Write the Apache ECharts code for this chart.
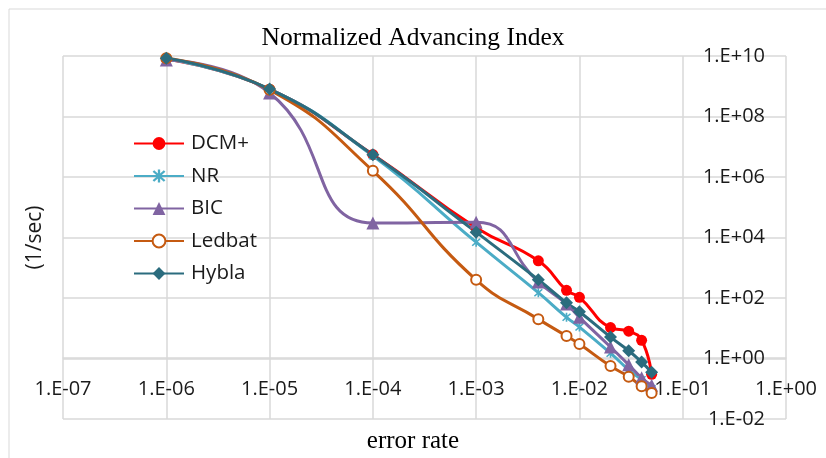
<!DOCTYPE html>
<html>
<head>
<meta charset="utf-8">
<script src="https://cdn.jsdelivr.net/npm/echarts@6/dist/echarts.min.js"></script>
<style>
  html, body { margin: 0; padding: 0; background: #fff; }
  #chart { width: 826px; height: 458px; }
</style>
</head>
<body>
<div id="chart"></div>
<script>
// error rate (x) shared by every series
const errorRate = [1e-6, 1e-5, 1e-4, 1e-3, 4e-3, 7.5e-3, 1e-2, 2e-2, 3e-2, 4e-2, 5e-2];

// normalized advancing index (1/sec)
const dcmPlus = [8e9, 8e8, 5.5e6, 2.1e4, 1.7e3, 180, 105, 10.5, 8, 4, 0.3];
const nr      = [8e9, 8e8, 5e6,   7e3,   150,   23,  11,  1.5,  0.42, 0.2, 0.1];
const bic     = [7.4e9, 6e8, 3e4, 3.2e4, 340,   63,  23,  2.4,  0.62, 0.23, 0.13];
const ledbat  = [8.5e9, 7.6e8, 1.6e6, 400, 20,  5.5, 3,   0.56, 0.25, 0.12, 0.072];
const hybla   = [8.5e9, 8.1e8, 5.4e6, 1.5e4, 400, 69, 35, 5.1,  1.8,  0.76, 0.35];

const seriesNames = ['DCM+', 'NR', 'BIC', 'Ledbat', 'Hybla'];
const colors = ['#FF0000', '#4BACC6', '#8064A2', '#C55A11', '#2B6C7E'];

const asterisk = 'path://M4.2,0 L5.8,0 L5.8,10 L4.2,10 Z M0.6,1.7 L1.7,0.6 L9.4,8.3 L8.3,9.4 Z M8.3,0.6 L9.4,1.7 L1.7,9.4 L0.6,8.3 Z';

/* 1e-7 -> 1.E-07 */
const sciLabel = (v) => {
  const e = Math.round(Math.log10(v));
  const s = e < 0 ? '-' : '+';
  return '1.E' + s + String(Math.abs(e)).padStart(2, '0');
};

const pairs = (ys) => errorRate.map((x, i) => [x, ys[i]]);

const lineSeries = (name, ys, color, symbol, symbolSize, extra) => Object.assign({
  name,
  type: 'line',
  data: pairs(ys),
  smooth: 0.5,
  symbol,
  symbolSize,
  lineStyle: { color, width: 3 },
  itemStyle: { color },
  emphasis: { disabled: true },
}, extra || {});

const gridLine = { color: '#d9d9d9', width: 1.5 };
const labelFont = { fontFamily: 'Open Sans', fontSize: 20, color: '#1a1a1a' };

const chart = echarts.init(document.getElementById('chart'), null, { renderer: 'canvas' });

chart.setOption({
  animation: false,
  title: {
    text: 'Normalized Advancing Index',
    left: 'center',
    top: 20,
    textStyle: { fontFamily: 'Liberation Serif', fontSize: 25.5, fontWeight: 'normal', color: '#000' },
  },
  graphic: [
    {
      type: 'rect',
      shape: { x: 9, y: 9, width: 830, height: 470 },
      style: { fill: 'none', stroke: '#d9d9d9', lineWidth: 1 },
      silent: true,
    },
    {
      type: 'text',
      x: 413, y: 441,
      style: {
        text: 'error rate', align: 'center', verticalAlign: 'middle',
        font: '25px "Liberation Serif"', fill: '#000',
      },
    },
  ],
  legend: {
    orient: 'vertical',
    left: 133,
    top: 133,
    padding: 0,
    itemWidth: 50,
    itemHeight: 16,
    itemGap: 11.5,
    data: seriesNames,
    textStyle: { fontFamily: 'Open Sans', fontSize: 20.5, lineHeight: 20, color: '#1a1a1a', padding: [0, 0, 0, 2] },
  },
  grid: { left: 63, right: 40, top: 56, bottom: 39, containLabel: false },
  xAxis: {
    type: 'log',
    logBase: 10,
    min: 1e-7,
    max: 1,
    position: 'bottom',
    offset: -61,
    axisLine: { show: true, lineStyle: gridLine },
    axisTick: { show: false },
    axisLabel: Object.assign({
      formatter: sciLabel, margin: 21,
      showMinLabel: true, showMaxLabel: true,
    }, labelFont),
    splitLine: { show: true, lineStyle: gridLine },
  },
  yAxis: [
    {
      type: 'log',
      logBase: 100,
      min: 1e-2,
      max: 1e10,
      position: 'right',
      axisLine: { show: false },
      axisTick: { show: false },
      axisLabel: Object.assign({
        inside: true, margin: 21, formatter: sciLabel,
        showMinLabel: true, showMaxLabel: true,
      }, labelFont),
      splitLine: { show: true, lineStyle: gridLine },
    },
    {
      // left-hand axis only carries the unit name
      type: 'log',
      logBase: 100,
      min: 1e-2,
      max: 1e10,
      position: 'left',
      name: '(1/sec)',
      nameLocation: 'middle',
      nameRotate: 90,
      nameGap: 17,
      nameTextStyle: { fontFamily: 'Open Sans', fontSize: 21, color: '#1a1a1a' },
      axisLine: { show: false },
      axisTick: { show: false },
      axisLabel: { show: false },
      splitLine: { show: false },
    },
  ],
  series: [
    lineSeries('DCM+', dcmPlus, colors[0], 'circle', 11),
    lineSeries('NR', nr, colors[1], asterisk, 9),
    lineSeries('BIC', bic, colors[2], 'triangle', 13),
    lineSeries('Ledbat', ledbat, colors[3], 'emptyCircle', 10, {
      itemStyle: { color: colors[3], borderColor: colors[3], borderWidth: 2 },
    }),
    lineSeries('Hybla', hybla, colors[4], 'diamond', 13),
  ],
});
</script>
</body>
</html>
